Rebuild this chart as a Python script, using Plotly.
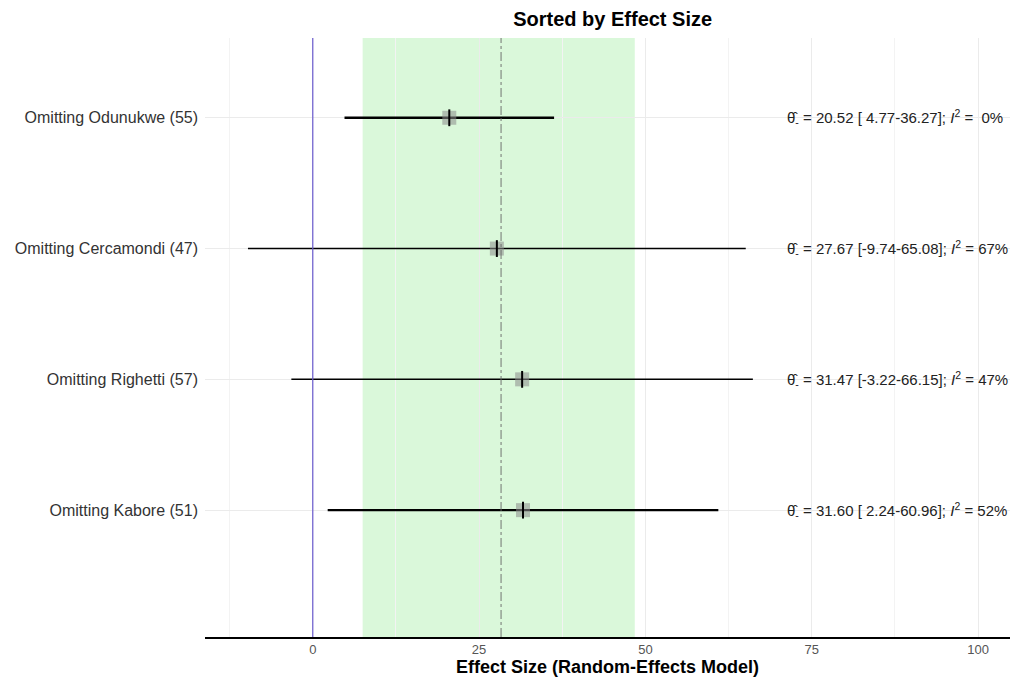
import plotly.graph_objects as go

# Leave-one-out results, top to bottom
studies = ["Omitting Odunukwe (55)", "Omitting Cercamondi (47)",
           "Omitting Righetti (57)", "Omitting Kabore (51)"]
estimates = [20.52, 27.67, 31.47, 31.60]
ci_lower = [4.77, -9.74, -3.22, 2.24]
ci_upper = [36.27, 65.08, 66.15, 60.96]
i2 = [0, 67, 47, 52]
line_widths = [2.4, 1.5, 1.5, 2.4]

# Pooled estimate and its confidence band
pooled = 28.3
pooled_lower = 7.5
pooled_upper = 48.4

x_ticks = [0, 25, 50, 75, 100]
x_range = [-16.2, 104.8]

n = len(studies)
ypos = [n - i for i in range(n)]

FONT = "Liberation Sans, Arial"

fig = go.Figure()

# pooled confidence band
fig.add_shape(type="rect", xref="x", yref="paper", x0=pooled_lower, x1=pooled_upper,
              y0=0, y1=1, fillcolor="rgba(205,245,205,0.75)", line_width=0, layer="below")
# pooled estimate
fig.add_shape(type="line", xref="x", yref="paper", x0=pooled, x1=pooled, y0=0, y1=1,
              line=dict(color="#666666", width=0.9, dash="dashdot"))
# null line
fig.add_shape(type="line", xref="x", yref="paper", x0=0, x1=0, y0=0, y1=1,
              line=dict(color="#6a5acd", width=1.2))

for y, lo, hi, w in zip(ypos, ci_lower, ci_upper, line_widths):
    fig.add_trace(go.Scatter(x=[lo, hi], y=[y, y], mode="lines",
                             line=dict(color="black", width=w), showlegend=False,
                             hoverinfo="skip"))

fig.add_trace(go.Scatter(x=estimates, y=ypos, mode="markers",
                         marker=dict(symbol="square", size=14, color="rgba(140,140,140,0.55)",
                                     line_width=0),
                         showlegend=False))
fig.add_trace(go.Scatter(x=estimates, y=ypos, mode="markers",
                         marker=dict(symbol="line-ns", size=12,
                                     line=dict(color="black", width=2)),
                         showlegend=False))

for y, est, lo, hi, h in zip(ypos, estimates, ci_lower, ci_upper, i2):
    lo_txt = f"{lo:.2f}" if lo < 0 else f" {lo:.2f}"
    h_txt = f"{h}%" if h >= 10 else f" {h}%"
    txt = (f"θ̂<sub>-</sub> = {est:.2f} [{lo_txt}-{hi:.2f}]; "
           f"<i>I</i><sup>2</sup> = {h_txt}")
    fig.add_annotation(x=71.0, y=y, xref="x", yref="y", text=txt, showarrow=False,
                       xanchor="left", yanchor="middle",
                       font=dict(family=FONT, size=15, color="#222222"))

fig.update_layout(
    width=1016, height=688,
    margin=dict(l=205, r=6, t=38, b=51),
    paper_bgcolor="white", plot_bgcolor="white",
    title=dict(text="<b>Sorted by Effect Size</b>", x=0.603, xanchor="center",
               y=0.972, yanchor="middle",
               font=dict(family=FONT, size=20, color="black")),
    xaxis=dict(range=x_range, tickvals=x_ticks, ticktext=[str(t) for t in x_ticks],
               showgrid=True, gridcolor="#ebebeb", gridwidth=1,
               minor=dict(dtick=12.5, tick0=0, showgrid=True, gridcolor="#f3f3f3"),
               zeroline=False, showline=True, linecolor="black", linewidth=1.5,
               ticks="", tickfont=dict(family=FONT, size=13, color="#555555"),
               title=dict(text="<b>Effect Size (Random-Effects Model)</b>", standoff=4,
                          font=dict(family=FONT, size=18, color="black"))),
    yaxis=dict(range=[0.03, 4.61], tickvals=ypos, ticktext=studies,
               showgrid=True, gridcolor="#ebebeb", zeroline=False, showline=False,
               ticks="", ticklabelstandoff=6,
               tickfont=dict(family=FONT, size=16, color="#333333")),
)

fig.write_html("out.html")
